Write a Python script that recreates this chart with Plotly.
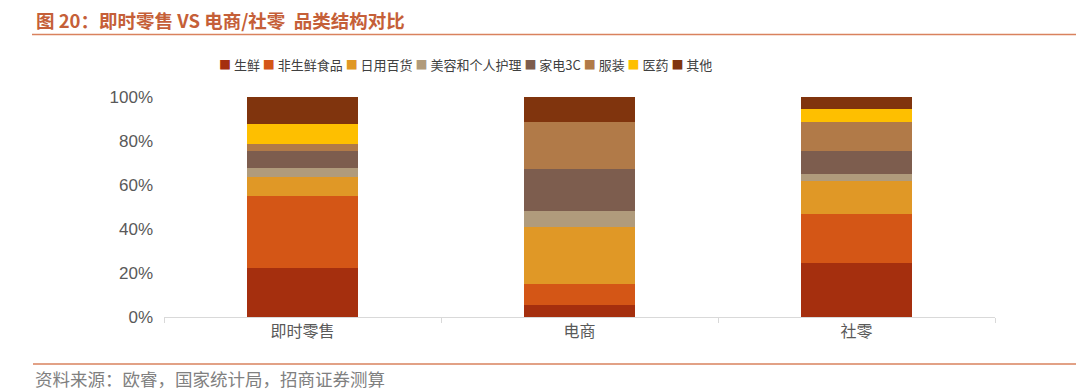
import plotly.graph_objects as go

# ---- data ----
categories = ["即时零售", "电商", "社零"]
series_names = ["生鲜", "非生鲜食品", "日用百货", "美容和个人护理", "家电3C", "服装", "医药", "其他"]
fresh = [22.4, 5.6, 24.5]
non_fresh_food = [32.4, 9.2, 22.2]
daily_goods = [9.0, 26.0, 15.1]
beauty = [4.1, 7.4, 3.2]
appliances_3c = [7.6, 19.2, 10.3]
apparel = [3.1, 21.1, 13.2]
medicine = [9.1, 0.0, 5.9]
others = [12.3, 11.5, 5.6]
series_values = [fresh, non_fresh_food, daily_goods, beauty, appliances_3c, apparel, medicine, others]
colors = ["#A52F0E", "#D45616", "#E09826", "#B09B7C", "#7D5D4E", "#B17A48", "#FEBF00", "#80340D"]
y_ticks = [0, 20, 40, 60, 80, 100]
title_text = "图 20：即时零售 VS 电商/社零  品类结构对比"
source_text = "资料来源：欧睿，国家统计局，招商证券测算"

# ---- layout geometry ----
WIDTH, HEIGHT = 1080, 390
L, R, T, B = 164, 85, 97, 73
PW, PH = WIDTH - L - R, HEIGHT - T - B

def px_x(x):
    return (x - L) / PW

def px_y(y):
    return (HEIGHT - B - y) / PH

CJK = "Noto Sans CJK SC"

fig = go.Figure()
for name, vals, col in zip(series_names, series_values, colors):
    fig.add_trace(go.Bar(
        x=categories, y=vals, name=name,
        marker=dict(color=col, line=dict(width=0)),
        showlegend=False,
    ))

# compact legend as text
legend_parts = []
for name, col in zip(series_names, colors):
    legend_parts.append(
        f"<span style='color:{col};font-size:12px'>■</span> {name}"
    )
legend_html = " ".join(legend_parts)

annotations = [
    dict(text=legend_html, xref="paper", yref="paper", x=px_x(465), y=px_y(64),
         xanchor="center", yanchor="middle", showarrow=False,
         font=dict(family=CJK, size=13, color="#404040")),
    dict(text=f"<b>{title_text}</b>", xref="paper", yref="paper", x=px_x(34), y=px_y(20),
         xanchor="left", yanchor="middle", showarrow=False,
         font=dict(family=CJK, size=18.5, color="#C55F38")),
    dict(text=source_text, xref="paper", yref="paper", x=px_x(33), y=px_y(378),
         xanchor="left", yanchor="middle", showarrow=False,
         font=dict(family=CJK, size=17.5, color="#808080")),
]

shapes = [
    dict(type="line", xref="paper", yref="paper", x0=px_x(32), x1=px_x(1076),
         y0=px_y(34.5), y1=px_y(34.5), line=dict(color="#D9825E", width=1.5)),
    dict(type="line", xref="paper", yref="paper", x0=px_x(33), x1=px_x(1076),
         y0=px_y(364), y1=px_y(364), line=dict(color="#D9825E", width=1.5)),
]

fig.update_layout(
    width=WIDTH, height=HEIGHT,
    margin=dict(l=L, r=R, t=T, b=B, pad=0),
    barmode="stack", bargap=0.6,
    plot_bgcolor="white", paper_bgcolor="white",
    showlegend=False,
    annotations=annotations, shapes=shapes,
    font=dict(family=CJK, color="#595959"),
)
fig.update_xaxes(
    type="category", range=[-0.5, 2.5],
    showline=True, linecolor="#D9D9D9", linewidth=1,
    ticks="outside", tickson="boundaries", ticklen=5, tickcolor="#D9D9D9",
    showgrid=False, zeroline=False,
    tickfont=dict(family=CJK, size=16, color="#595959"),
)
fig.update_yaxes(
    range=[0, 100], tickvals=y_ticks, ticktext=[f"{v}%" for v in y_ticks],
    showgrid=False, zeroline=False, showline=False,
    ticks="", ticklabelstandoff=10,
    tickfont=dict(family="Liberation Sans", size=17, color="#595959"),
)

fig.write_html(
    "out.html",
    config={"displayModeBar": False},
    post_script="document.body.style.margin='0px';document.body.style.overflow='hidden';",
)
